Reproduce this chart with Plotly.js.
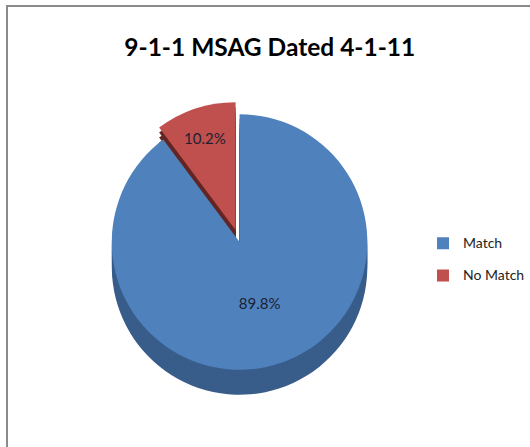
<!DOCTYPE html>
<html><head><meta charset="utf-8">
<script src="https://cdn.plot.ly/plotly-3.0.1.min.js"></script>
<style>
body{margin:0;padding:0;background:#fff;}
#wrap{position:relative;width:530px;height:447px;overflow:hidden;}
#frame{position:absolute;left:6px;top:5px;width:600px;height:600px;border-left:2px solid #8a8a8a;border-top:2px solid #8a8a8a;pointer-events:none;}
</style>
</head><body>
<div id="wrap"><div id="chart" style="width:530px;height:447px;"></div><div id="frame"></div></div>
<script>
const categories = ["Match", "No Match"];
const shares = [89.8, 10.2];
const topColors = ["#4F81BD", "#C0504D"];
const sideColors = ["#385D8A", "#632523"];
const titleText = "9-1-1 MSAG Dated 4-1-11";

const fam = 'Lato, sans-serif';
const cx = [0.1872, 0.7185];
const cy = [0.1436, 0.7736];
const depthSteps = [0.0559, 0.0447, 0.0336, 0.0224, 0.0112];

const common = {
  type: 'pie', labels: categories.map(c => '<span style="font-size:14px">' + c + '</span><br> '),
  values: shares, sort: false,
  direction: 'clockwise', rotation: 0, pull: [0, 0.1]
};
const traces = depthSteps.map(d => Object.assign({}, common, {
  marker: {colors: sideColors, line: {width: 0}},
  textinfo: 'none', hoverinfo: 'skip', showlegend: false,
  domain: {x: cx, y: [cy[0] - d, cy[1] - d]}
}));
traces.push(Object.assign({}, common, {
  marker: {colors: topColors, line: {width: 0}},
  textinfo: 'percent', texttemplate: '%{percent:.1%}', textposition: 'inside',
  insidetextorientation: 'horizontal',
  textfont: {family: fam, size: 15, color: '#1c2233'},
  domain: {x: cx, y: cy}
}));
const layout = {
  width: 530, height: 447,
  margin: {l: 0, r: 0, t: 0, b: 0},
  paper_bgcolor: '#fff',
  title: {text: titleText, font: {family: fam, size: 24.5, color: '#000', weight: 'bold'},
          xref: 'paper', yref: 'paper', x: 0.51, y: 0.895, xanchor: 'center', yanchor: 'middle'},
  legend: {xref: 'paper', yref: 'paper', x: 0.8, y: 0.487, xanchor: 'left', yanchor: 'top',
           font: {family: fam, size: 11.3, color: '#222'}, valign: 'top'}
};
Plotly.newPlot('chart', traces, layout, {displayModeBar: false, staticPlot: true});
</script>
</body></html>
